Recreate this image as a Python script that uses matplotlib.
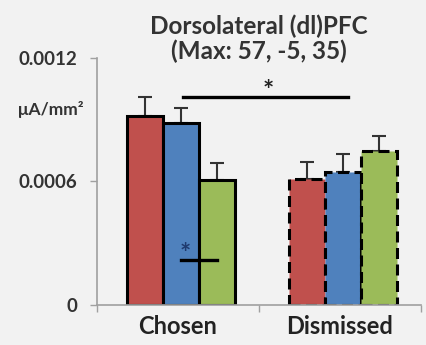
import matplotlib
matplotlib.use("Agg")
import matplotlib.pyplot as plt
import numpy as np

categories = ["Chosen", "Dismissed"]
series_names = ["Red", "Blue", "Green"]
red_vals = [0.000917, 0.000610]
blue_vals = [0.000883, 0.000644]
green_vals = [0.000605, 0.000746]
red_err = [0.000093, 0.000083]
blue_err = [0.000073, 0.000088]
green_err = [0.000083, 0.000074]
yticks = [0, 0.0006, 0.0012]
ytick_labels = ["0", "0.0006", "0.0012"]

colors = ["#C0504D", "#4F81BD", "#9BBB59"]
bg = "#F2F2F2"

plt.rcParams['font.family'] = ['Lato', 'DejaVu Sans']

fig = plt.figure(figsize=(4.26, 3.45), dpi=100, facecolor=bg)
ax = fig.add_axes([0.2277, 0.116, 0.988 - 0.2277, 0.832 - 0.116], facecolor=bg)

x = np.arange(len(categories))
width = 0.222
offsets = [-0.205, 0.017, 0.239]
vals = [red_vals, blue_vals, green_vals]
errs = [red_err, blue_err, green_err]
for i in range(3):
    for j in range(len(categories)):
        ls = '-' if j == 0 else (0, (3.6, 1.8))
        ax.bar(x[j] + offsets[i], vals[i][j], width, color=colors[i],
               edgecolor='black', linewidth=2.2, linestyle=ls, zorder=2)
    ax.errorbar(x + offsets[i], vals[i], yerr=[np.zeros(2), errs[i]],
                fmt='none', ecolor='#333333', elinewidth=1.5, capsize=5,
                capthick=1.5, zorder=1)

# significance markers
ax.plot([0.03, 1.05], [0.00101, 0.00101], color='black', lw=2.4, zorder=3)
ax.text(0.56, 0.00104, '*', ha='center', va='center', fontsize=19,
        fontweight='bold', color='#222222')
ax.plot([0.02, 0.24], [0.00022, 0.00022], color='black', lw=2.4, zorder=3)
ax.text(0.045, 0.00025, '*', ha='center', va='center', fontsize=19,
        fontweight='bold', color='#1F3A6E', zorder=4)

ax.set_xlim(-0.5, 1.5)
ax.set_ylim(0, 0.0012)
ax.set_yticks(yticks)
ax.set_yticklabels(ytick_labels, fontsize=13.5, fontweight='bold', color='#333333')
ax.set_xticks(x)
ax.set_xticklabels(categories, fontsize=17, fontweight='bold', color='#222222')
ax.set_xticks([-0.5, 0.5, 1.5], minor=True)
ax.tick_params(axis='x', which='major', length=0, pad=7)
ax.tick_params(axis='x', which='minor', length=5, color='#A0A0A0', width=1)
ax.tick_params(axis='y', length=5, color='#A0A0A0', width=1, pad=9)
for s in ['top', 'right']:
    ax.spines[s].set_visible(False)
for s in ['left', 'bottom']:
    ax.spines[s].set_color('#A0A0A0')
    ax.spines[s].set_linewidth(1.2)

fig.text(0.12, 0.684, 'μA/mm²', ha='center', va='center', fontsize=12.5,
         fontweight='bold', color='#333333')
fig.text(0.607, 0.925, 'Dorsolateral (dl)PFC', ha='center', va='center',
         fontsize=17.5, fontweight='bold', color='#333333')
fig.text(0.607, 0.852, '(Max: 57, -5, 35)', ha='center', va='center',
         fontsize=17.5, fontweight='bold', color='#333333')

fig.savefig('out.png', dpi=100, facecolor=bg)
